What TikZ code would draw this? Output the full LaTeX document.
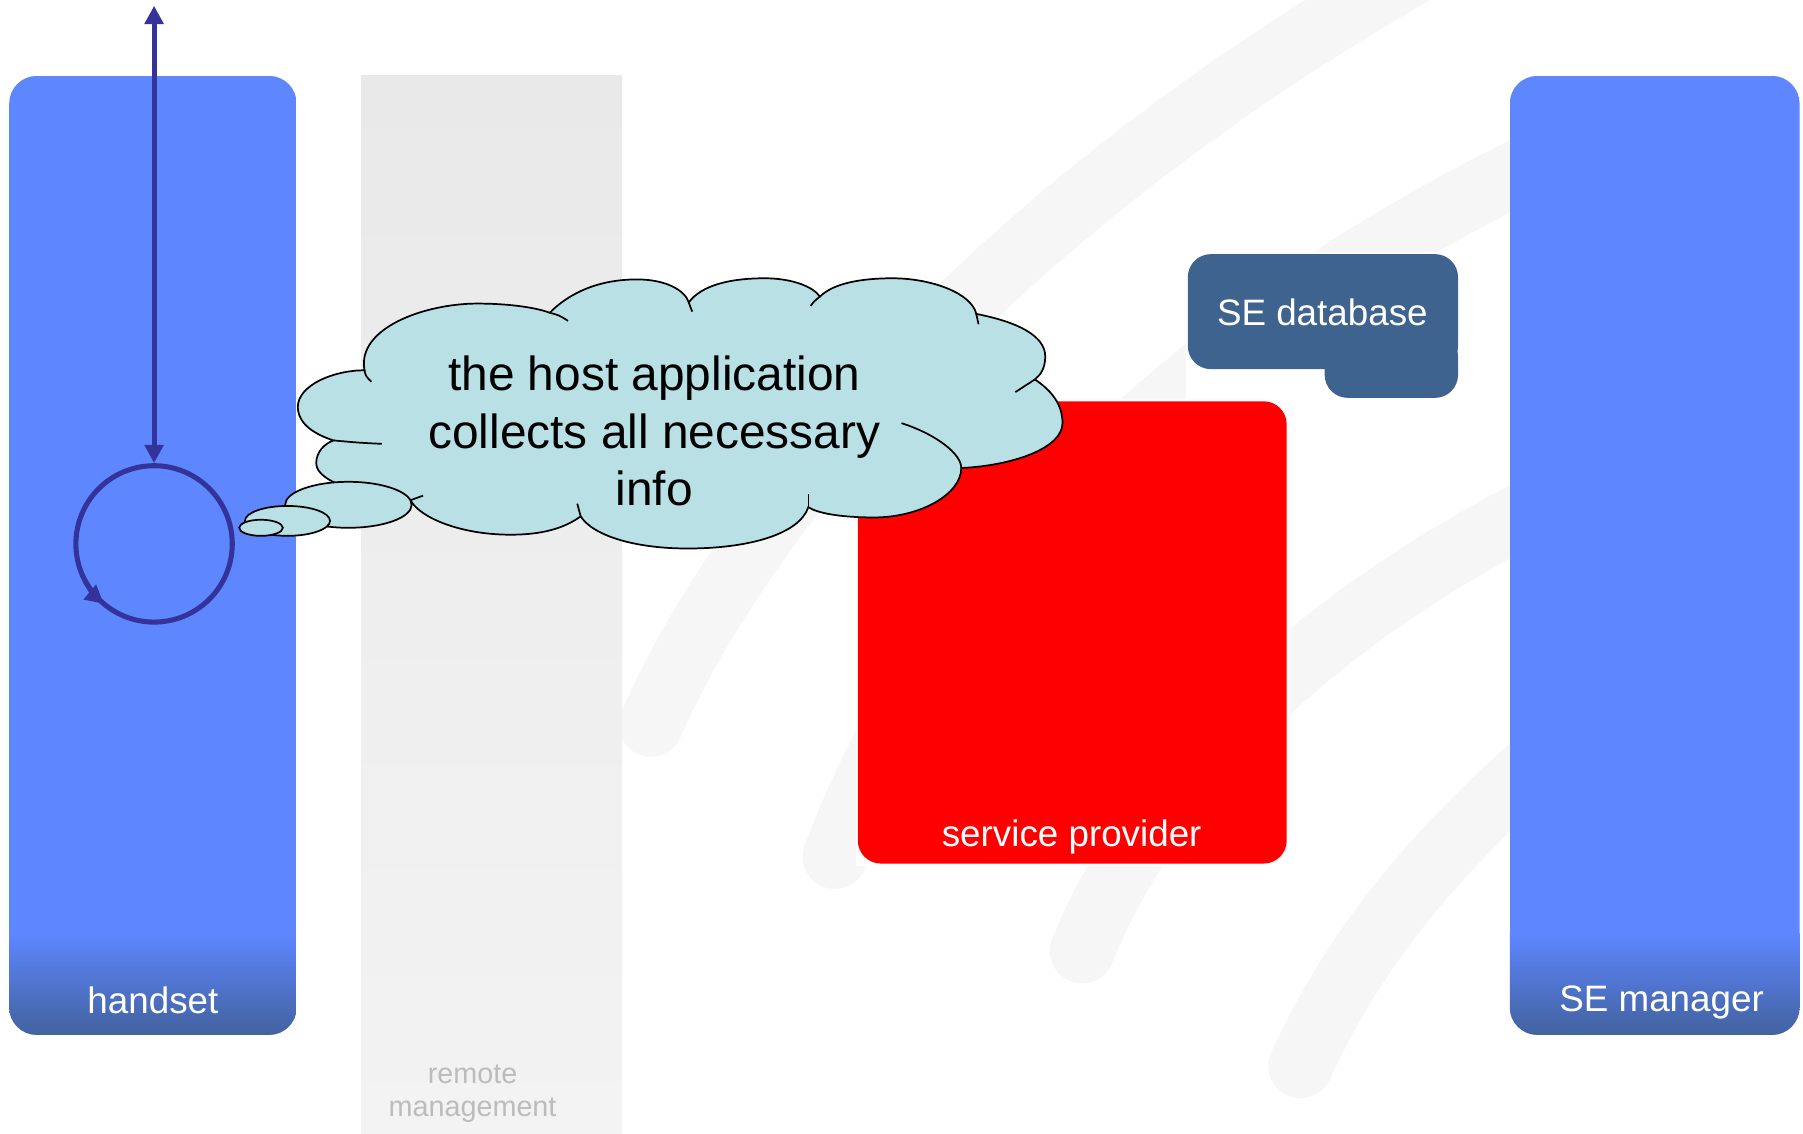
\documentclass[tikz,border=0pt]{standalone}
\usepackage{fontspec}
\setmainfont{Liberation Sans}
\usetikzlibrary{arrows.meta}
\definecolor{colblue}{RGB}{94,134,255}
\definecolor{coldark}{RGB}{66,98,158}
\definecolor{sedb}{RGB}{62,99,143}
\definecolor{spred}{RGB}{255,0,0}
\definecolor{remtop}{RGB}{233,233,233}
\definecolor{rembot}{RGB}{243,243,243}
\definecolor{remtext}{RGB}{188,188,188}
\definecolor{arrowcol}{RGB}{51,51,153}
\definecolor{bandgray}{RGB}{246,246,246}
\definecolor{cloudfill}{RGB}{185,224,228}
\tikzset{
  band/.style={draw=bandgray, line width=28pt, line cap=round},
  whitelabel/.style={text=white, inner sep=0pt, anchor=base, font=\fontsize{16pt}{19pt}\selectfont},
  cloudline/.style={draw=black, line width=0.75pt},
  bubble/.style={fill=cloudfill, draw=black, line width=0.75pt},
  tick/.style={draw=black, line width=0.75pt},
  flow/.style={draw=arrowcol, line width=2.2pt},
}
\begin{document}
\begin{tikzpicture}[x=0.5pt,y=-0.5pt]
\useasboundingbox (0,0) rectangle (1568,986);
\fill[white] (0,0) rectangle (1568,986);

% faint background swooshes
\draw[band] (566,630) .. controls (650,440) and (870,180) .. (1240,-30);
\draw[band] (726,745) .. controls (810,520) and (1010,300) .. (1340,140);
\draw[band] (941,827) .. controls (1010,660) and (1160,530) .. (1340,440);
\draw[band] (1131,927) .. controls (1180,820) and (1250,740) .. (1340,660);

% remote management column
\shade[top color=remtop, bottom color=rembot] (314,66) rectangle (541,986);
\node[text=remtext, align=center, anchor=base, inner sep=0pt,
      font=\fontsize{12.5pt}{14.5pt}\selectfont] (remote) at (411,971) {remote\\management};

% handset column
\begin{scope}
  \clip[rounded corners=12pt] (8,66) rectangle (258,900);
  \fill[colblue] (8,66) rectangle (258,900);
  \shade[top color=colblue, bottom color=coldark] (8,812) rectangle (258,900);
\end{scope}
\node[whitelabel] (handset) at (133,881) {handset};

% SE manager column
\begin{scope}
  \clip[rounded corners=12pt] (1313,66) rectangle (1565,900);
  \fill[colblue] (1313,66) rectangle (1565,900);
  \shade[top color=colblue, bottom color=coldark] (1313,812) rectangle (1565,900);
\end{scope}
\node[whitelabel] (semgr) at (1445,880) {SE manager};

% SE database
\fill[white] (1031,219) rectangle (1271,350);
\fill[sedb, rounded corners=10pt] (1033,221) rectangle (1268,321);
\fill[sedb, rounded corners=10pt] (1152,290) rectangle (1268,346);
\node[whitelabel] (sedbl) at (1150,283) {SE database};

% service provider
\fill[white] (744,347) rectangle (1122,753);
\fill[spred, rounded corners=10pt] (746,349) rectangle (1119,751);
\node[whitelabel] (sp) at (932,736) {service provider};

% thought cloud
\path[fill=cloudfill, cloudline] (317,322)
 .. controls (310,285) and (370,264) .. (415,264)
 .. controls (445,264) and (468,268) .. (478,272)
 .. controls (495,255) and (520,243) .. (554,243)
 .. controls (580,243) and (596,253) .. (599,263)
 .. controls (610,248) and (635,242) .. (665,242)
 .. controls (690,242) and (708,250) .. (713,258)
 .. controls (725,246) and (750,242) .. (776,242)
 .. controls (810,242) and (845,255) .. (849,273)
 .. controls (885,280) and (909,292) .. (909,310)
 .. controls (909,320) and (905,326) .. (900,330)
 .. controls (915,340) and (924,352) .. (924,368)
 .. controls (924,390) and (880,405) .. (836,407)
 .. controls (836,430) and (800,450) .. (760,450)
 .. controls (730,450) and (710,446) .. (703,441)
 .. controls (695,465) and (650,477) .. (598,477)
 .. controls (550,477) and (515,465) .. (505,449)
 .. controls (490,460) and (470,465) .. (444,465)
 .. controls (400,465) and (365,450) .. (357,435)
 .. controls (320,432) and (275,420) .. (275,403)
 .. controls (275,393) and (282,386) .. (290,383)
 .. controls (265,375) and (259,363) .. (259,354)
 .. controls (259,335) and (290,322) .. (317,322) -- cycle;
% inner ticks of the cloud
\draw[tick] (317,322) .. controls (318,327) .. (323,332);
\draw[tick] (478,272) .. controls (486,274) .. (494,279);
\draw[tick] (599,263) .. controls (600,266) .. (602,271);
\draw[tick] (705,266) .. controls (708,262) .. (713,258);
\draw[tick] (849,273) .. controls (850,277) .. (851,282);
\draw[tick] (883,341) .. controls (892,336) .. (900,330);
\draw[tick] (784,368) .. controls (815,378) and (836,395) .. (836,407);
\draw[tick] (703,430) .. controls (703,436) .. (703,441);
\draw[tick] (505,449) .. controls (503,444) .. (502,438);
\draw[tick] (357,435) .. controls (362,433) .. (368,431);
\draw[tick] (290,383) .. controls (312,385) .. (332,386);

% thought bubbles
\path[bubble] (303,439) ellipse[x radius=55, y radius=20];
\path[bubble] (250,453) ellipse[x radius=37, y radius=13];
\path[bubble] (227,459) ellipse[x radius=19, y radius=7];

\node[align=center, anchor=base, inner sep=0pt,
      font=\fontsize{20.8pt}{25pt}\selectfont] (cloudtext) at (569,440)
  {the host application\\collects all necessary\\info};

% loop and vertical arrow
\node[circle, flow, minimum size=68pt, inner sep=0pt] (loop) at (134,473) {};
\coordinate (atop) at (134,5);
\draw[flow, {Triangle[length=8pt,width=8pt]}-{Triangle[length=8pt,width=8pt]}] (atop) -- (loop.north);
\draw[flow, -{Triangle[length=8pt,width=8pt]}] ([shift={(152:68)}]loop.center) arc[start angle=152, end angle=130, radius=68];
\end{tikzpicture}
\end{document}
